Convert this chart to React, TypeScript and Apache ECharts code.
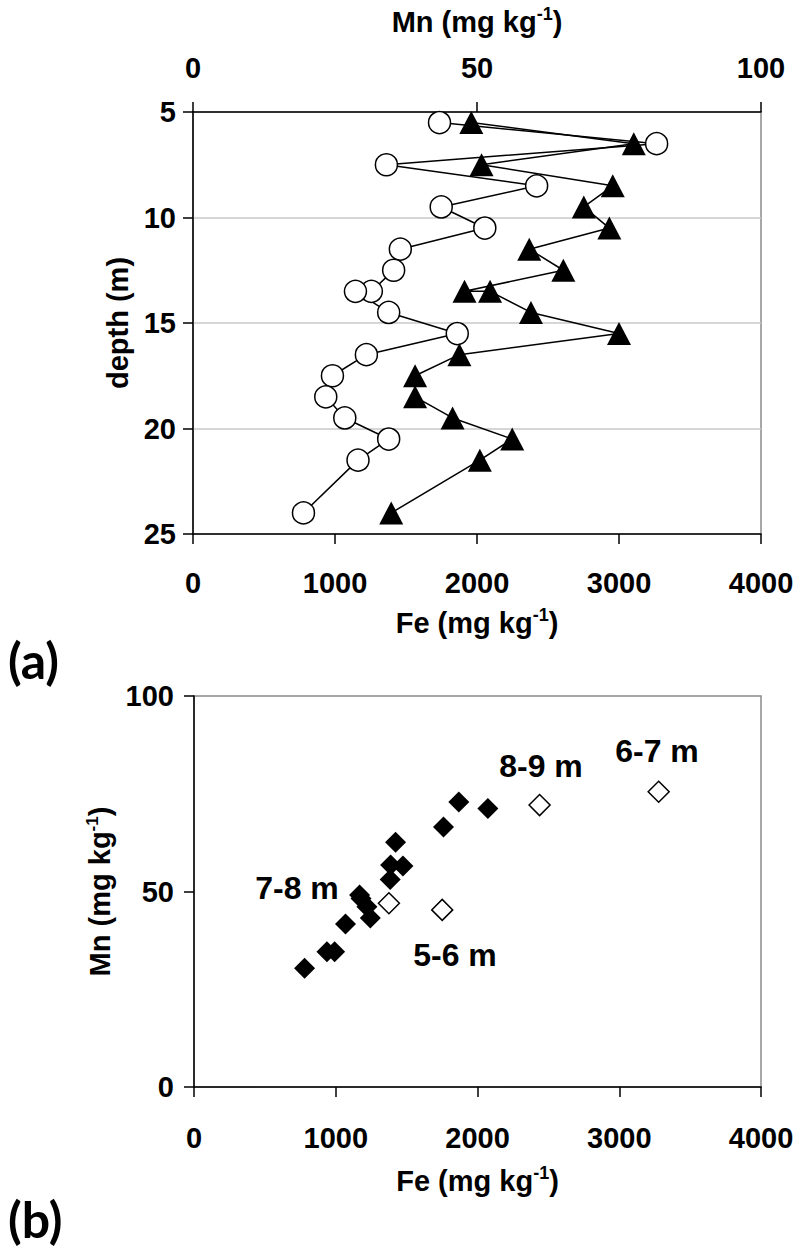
import React, { useEffect, useRef } from 'react';
import * as echarts from 'echarts';

// ---- Panel (a): depth profile ----
const depths = [5.5, 6.5, 7.5, 8.5, 9.5, 10.5, 11.5, 12.5, 13.5, 13.5, 14.5, 15.5, 16.5, 17.5, 18.5, 19.5, 20.5, 21.5, 24];
const feProfile = [1736, 3265, 1362, 2420, 1748, 2055, 1460, 1413, 1256, 1144, 1378, 1861, 1221, 982, 935, 1069, 1378, 1162, 778];
const mnProfile = [49.0, 77.6, 50.8, 73.9, 68.8, 73.3, 59.2, 65.2, 47.8, 52.3, 59.5, 75.0, 46.9, 39.1, 39.1, 45.7, 56.2, 50.5, 34.9];

// ---- Panel (b): Fe vs Mn scatter ----
const openFe = [1751, 3278, 1375, 2438];
const openMn = [45.3, 75.5, 47.0, 72.1];
const openLabels = ['5-6 m', '6-7 m', '7-8 m', '8-9 m'];
const filledFe = [1760, 2073, 1474, 1422, 1244, 1168, 1387, 1868, 1220, 992, 938, 1069, 1384, 1178, 780];
const filledMn = [66.5, 71.2, 56.5, 62.6, 43.2, 49.1, 56.8, 72.9, 46.1, 34.6, 34.6, 41.7, 53.1, 48.2, 30.4];

// axis ranges [min, max, interval]
const feRange = [0, 4000, 1000];
const mnRange = [0, 100, 50];
const depthRange = [5, 25, 5];

export default function App() {
  const ref = useRef<HTMLDivElement>(null);
  useEffect(() => {
    const chart = echarts.init(ref.current!, null, { renderer: 'svg' });
    const FONT = '"Liberation Sans", Arial, sans-serif';
    const TS = 29;
    const label = { fontFamily: FONT, fontWeight: 'bold', fontSize: TS, color: '#000', formatter: (v: number) => String(v) };
    const richH = {
      a: { fontFamily: FONT, fontWeight: 'bold', fontSize: 29, lineHeight: 34, color: '#000' },
      s: { fontFamily: FONT, fontWeight: 'bold', fontSize: 18, lineHeight: 18, verticalAlign: 'top', color: '#000' },
    };
    const richV = {
      a: { fontFamily: FONT, fontWeight: 'bold', fontSize: 29, lineHeight: 32, color: '#000' },
      s: { fontFamily: FONT, fontWeight: 'bold', fontSize: 17, lineHeight: 17, verticalAlign: 'top', color: '#000' },
    };
    const feName = '{a|Fe (mg kg}{s|-1}{a|)}';
    const mnName = '{a|Mn (mg kg}{s|-1}{a|)}';
    const axisLine = { show: true, lineStyle: { color: '#000', width: 1.5 } };
    const axisTick = { show: true, inside: false, length: 10, lineStyle: { color: '#000', width: 1.5 } };
    const annot = (text: string, x: number, y: number) => ({
      type: 'text', x, y,
      style: { text, fontFamily: FONT, fontWeight: 'bold', fontSize: 32, fill: '#000', align: 'center', verticalAlign: 'middle', textAlign: 'center', textVerticalAlign: 'middle' },
    });
    const panelTag = (text: string, y: number) => ({
      type: 'text', x: 8, y,
      style: { text, fontFamily: 'Lato, "Open Sans", sans-serif', fontWeight: 'bold', fontSize: 50, fill: '#000', align: 'left', verticalAlign: 'middle', textAlign: 'left', textVerticalAlign: 'middle' },
    });

    const option: any = {
      animation: false,
      backgroundColor: '#fff',
      grid: [
        { left: 193, top: 112, width: 568, height: 422, show: true, borderColor: '#8a8a8a', borderWidth: 1.5, backgroundColor: 'transparent' },
        { left: 194, top: 696, width: 567, height: 391, show: true, borderColor: '#8a8a8a', borderWidth: 1.5, backgroundColor: 'transparent' },
      ],
      xAxis: [
        {
          gridIndex: 0, type: 'value', position: 'bottom', min: feRange[0], max: feRange[1], interval: feRange[2],
          axisLine, axisTick, axisLabel: { ...label, margin: 34 }, splitLine: { show: false },
          name: feName, nameLocation: 'middle', nameGap: 72, nameTextStyle: { rich: richH },
        },
        {
          gridIndex: 0, type: 'value', position: 'top', min: mnRange[0], max: mnRange[1], interval: mnRange[2],
          axisLine, axisTick, axisLabel: { ...label, margin: 30 }, splitLine: { show: false },
          name: mnName, nameLocation: 'middle', nameGap: 73, nameTextStyle: { rich: richH },
        },
        {
          gridIndex: 1, type: 'value', position: 'bottom', min: feRange[0], max: feRange[1], interval: feRange[2],
          axisLine, axisTick, axisLabel: { ...label, margin: 36 }, splitLine: { show: false },
          name: feName, nameLocation: 'middle', nameGap: 77, nameTextStyle: { rich: richH },
        },
      ],
      yAxis: [
        {
          gridIndex: 0, type: 'value', inverse: true, min: depthRange[0], max: depthRange[1], interval: depthRange[2],
          axisLine, axisTick, axisLabel: { ...label, margin: 17 },
          splitLine: { show: true, lineStyle: { color: '#c8c8c8', width: 1.5 } },
          name: '{a|depth (m)}', nameLocation: 'middle', nameRotate: 90, nameGap: 58, nameTextStyle: { rich: richV },
        },
        {
          gridIndex: 1, type: 'value', min: mnRange[0], max: mnRange[1], interval: mnRange[2],
          axisLine, axisTick, axisLabel: { ...label, margin: 20 }, splitLine: { show: false },
          name: mnName, nameLocation: 'middle', nameRotate: 90, nameGap: 62, nameTextStyle: { rich: richV },
        },
      ],
      series: [
        {
          type: 'line', xAxisIndex: 0, yAxisIndex: 0,
          data: depths.map((d, i) => [feProfile[i], d]),
          symbol: 'circle', symbolSize: 22,
          itemStyle: { color: '#fff', borderColor: '#000', borderWidth: 1.5, opacity: 1 },
          lineStyle: { color: '#000', width: 1.5 },
        },
        {
          type: 'line', xAxisIndex: 1, yAxisIndex: 0,
          data: depths.map((d, i) => [mnProfile[i], d]),
          symbol: 'triangle', symbolSize: [24, 23],
          itemStyle: { color: '#000', borderColor: '#000', borderWidth: 0, opacity: 1 },
          lineStyle: { color: '#000', width: 1.5 },
        },
        {
          type: 'scatter', xAxisIndex: 2, yAxisIndex: 1,
          data: filledFe.map((f, i) => [f, filledMn[i]]),
          symbol: 'diamond', symbolSize: 21,
          itemStyle: { color: '#000', opacity: 1 },
        },
        {
          type: 'scatter', xAxisIndex: 2, yAxisIndex: 1,
          data: openFe.map((f, i) => ({ value: [f, openMn[i]], name: openLabels[i] })),
          symbol: 'diamond', symbolSize: 21,
          itemStyle: { color: '#fff', borderColor: '#000', borderWidth: 1.5, opacity: 1 },
        },
      ],
      graphic: [
        annot(openLabels[3], 541, 766),
        annot(openLabels[1], 657, 751),
        annot(openLabels[2], 297, 888),
        annot(openLabels[0], 455, 955),
        panelTag('(a)', 660),
        panelTag('(b)', 1219),
      ],
    };
    chart.setOption(option);
    return () => chart.dispose();
  }, []);
  return <div ref={ref} style={{ position: 'absolute', left: 0, top: 0, width: 802, height: 1252, background: '#fff' }} />;
}
